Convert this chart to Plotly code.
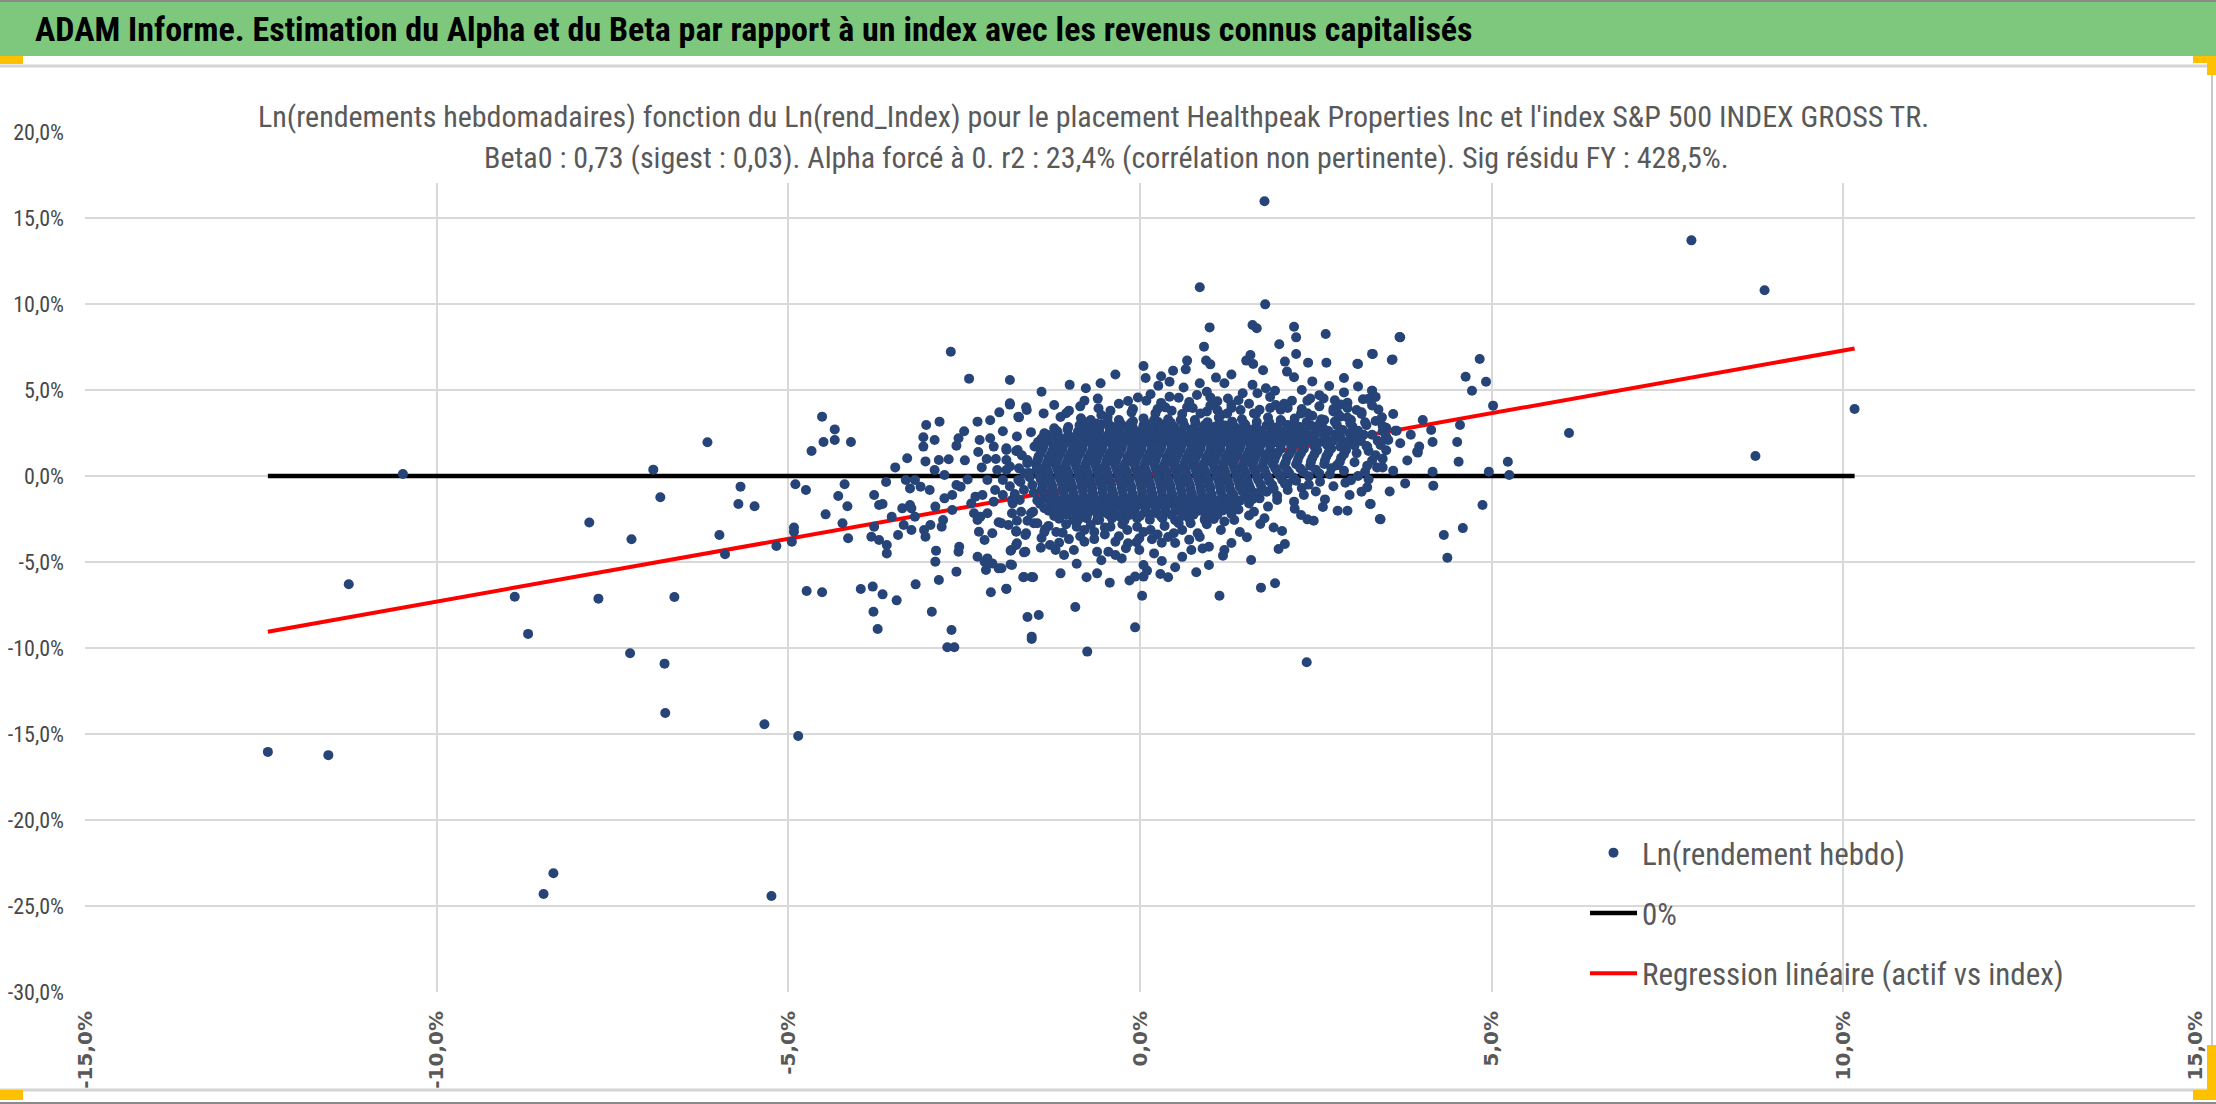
#!/usr/bin/env python
import plotly.graph_objects as go

### TEXTS ###
banner_text = ("ADAM Informe. Estimation du Alpha et du Beta par rapport à un index "
               "avec les revenus connus capitalisés")
title_lines = [
    "Ln(rendements hebdomadaires) fonction du Ln(rend_Index) pour le placement Healthpeak "
    "Properties Inc et l'index S&P 500 INDEX GROSS TR.",
    "Beta0 : 0,73 (sigest : 0,03). Alpha forcé à 0. r2 : 23,4% (corrélation non pertinente). "
    "Sig résidu FY : 428,5%.",
]
series_names = ["Ln(rendement hebdo)", "0%", "Regression linéaire (actif vs index)"]

x_tick_vals = [-15, -10, -5, 0, 5, 10, 15]
x_tick_text = ["-15,0%", "-10,0%", "-5,0%", "0,0%", "5,0%", "10,0%", "15,0%"]
y_tick_vals = [20, 15, 10, 5, 0, -5, -10, -15, -20, -25, -30]
y_tick_text = ["20,0%", "15,0%", "10,0%", "5,0%", "0,0%", "-5,0%", "-10,0%",
               "-15,0%", "-20,0%", "-25,0%", "-30,0%"]

beta0 = 0.73

### DATA (index ln-return %, asset ln-return %) ###
pts_tails = [
    (-12.40, -16.04), (-11.54, -16.23), (-11.25, -6.29), (-10.48, 0.12), (-8.89, -7.02),
    (-8.70, -9.18), (-8.48, -24.3), (-8.34, -23.1), (-7.83, -2.70), (-7.70, -7.13),
    (-7.25, -10.31), (-7.23, -3.68), (-6.92, 0.37), (-6.82, -1.24), (-6.76, -10.91),
    (-6.75, -13.78), (-6.62, -7.03), (-6.15, 1.96), (-5.98, -3.43), (-5.90, -4.55),
    (-5.71, -1.63), (-5.68, -0.62), (-5.48, -1.76), (-5.34, -14.43), (-5.24, -24.42),
    (-5.17, -4.07), (-4.95, -3.82), (-4.92, -3.0), (-4.92, -3.24), (-4.90, -0.48),
    (-4.86, -15.12), (-4.75, -0.81), (-4.74, -6.69), (-4.67, 1.45), (-4.52, 3.45),
    (-4.52, -6.76), (-4.50, 1.98), (-4.47, -2.23), (-4.34, 2.71), (-4.34, 2.09),
    (-4.29, -1.16), (-4.23, -2.75), (-4.20, -0.48), (-4.16, -1.76), (-4.15, -3.62),
    (-4.11, 1.98),
]
pts_left = [
    (-3.97, -6.57), (-3.80, -6.43), (-3.66, -6.88), (-3.46, -7.23), (-3.79, -7.89),
    (-3.73, -8.90), (-3.19, -6.30), (-2.96, -7.89), (-2.68, -8.95), (-2.74, -9.96),
    (-2.64, -9.96), (-2.86, -6.05), (-2.61, -5.56), (-2.12, -6.76), (-1.90, -6.57),
    (-1.65, -5.87), (-1.54, -5.87), (-1.60, -8.20), (-1.54, -9.48), (-3.78, -1.10),
    (-3.71, -1.69), (-3.66, -1.63), (-3.61, -0.35), (-3.78, -2.95), (-3.82, -3.53),
    (-3.71, -3.72), (-3.60, -4.01), (-3.60, -4.50), (-3.48, 0.50), (-3.31, 1.03),
    (-3.04, 2.97), (-2.85, 3.16), (-3.08, 2.25), (-3.08, 1.71), (-2.92, 2.09),
    (-3.05, 0.85), (-2.86, 0.93), (-2.72, 0.97), (-2.58, 2.19), (-2.61, 1.76),
    (-2.49, 0.91), (-2.31, 3.16), (-2.13, 3.24), (-2.28, 2.09), (-2.13, 2.19),
    (-2.08, 1.71), (-2.18, 0.99), (-2.05, 0.99), (-1.85, 4.15), (-1.85, 5.58),
    (-1.73, 3.45), (-1.61, 3.84), (-1.90, 1.51), (-1.76, 1.45), (-3.33, -0.23),
    (-3.27, -0.72), (-3.20, -0.23), (-3.12, -0.62), (-2.99, -0.81), (-2.92, 0.35),
    (-2.78, 0.06), (-2.61, -0.52), (-2.55, -0.62), (-2.67, -1.10), (-2.78, -1.30),
    (-3.38, -1.88), (-3.25, -1.88), (-3.20, -2.37), (-3.27, -1.69), (-3.53, -2.37),
    (-3.36, -2.85), (-3.25, -3.14), (-3.44, -3.43), (-3.07, -3.14), (-3.05, -3.53),
    (-2.98, -2.85), (-2.82, -2.95), (-2.80, -2.56), (-2.67, -1.98), (-2.91, -1.78),
    (-2.90, -4.34), (-2.91, -4.98), (-2.57, -4.11), (-2.58, -4.40), (-2.31, -4.69),
    (-2.21, -4.98), (-2.17, -4.79), (-2.10, -5.08), (-2.01, -5.37), (-2.19, -5.47),
    (-1.84, -5.14), (-1.84, -4.34), (-1.76, -4.01), (-1.65, -4.44), (-2.29, -3.24),
    (-2.21, -3.72), (-2.10, -3.33), (-2.01, -2.69), (-1.87, -2.85), (-1.76, -3.24),
    (-1.63, -3.43), (-1.51, -2.75), (-2.36, -2.17), (-2.27, -2.37), (-2.17, -2.17),
    (-2.34, -1.20), (-2.24, -1.10), (-2.08, -1.49), (-2.06, -0.81), (-2.17, -0.23),
    (-1.95, -0.23), (-1.90, 0.35), (-2.03, 0.35), (-1.73, -0.23), (-1.65, -0.81),
    (-1.71, -1.40), (-1.81, -1.59), (-1.60, 0.74), (-1.47, 0.35), (-1.55, -2.17),
    (-2.31, -2.56), (-2.69, 7.22), (-2.43, 5.66),
]
pts_upper = [
    (1.77, 15.97), (0.85, 10.97), (1.78, 9.98), (0.99, 8.64), (1.60, 8.78), (1.66, 8.59),
    (2.19, 8.68), (2.22, 8.06), (2.64, 8.26), (3.70, 8.06), (0.91, 7.52), (0.67, 6.71),
    (0.94, 6.72), (1.00, 6.49), (1.51, 6.71), (1.57, 7.03), (1.61, 6.51), (1.98, 7.66),
    (2.06, 6.65), (2.22, 7.09), (2.09, 6.07), (2.19, 5.74), (2.39, 6.59), (2.65, 6.59),
    (3.10, 6.51), (3.31, 7.09), (3.59, 6.78), (2.69, 5.23), (3.30, 4.96), (0.47, 6.12),
    (0.08, 5.70), (0.26, 5.25), (0.85, 5.39), (1.08, 5.72), (1.20, 5.39), (0.62, 5.15),
    (0.42, 5.48), (-0.56, 5.39), (-0.77, 5.10), (-0.79, 4.38), (-1.85, 4.23),
    (-1.62, 3.99), (-1.72, 3.41), (-1.37, 3.64), (-1.22, 4.13), (-1.13, 3.43),
    (-1.01, 3.80), (-0.59, 3.94), (-0.42, 3.80), (-0.46, 3.43), (-0.17, 4.36),
    (-0.03, 4.56), (0.09, 4.38), (0.22, 3.64), (0.36, 3.99), (0.42, 4.61), (0.81, 4.71),
    (1.0, 4.57), (1.25, 4.51), (1.46, 4.81), (1.67, 4.81), (1.79, 5.10), (1.92, 4.96),
    (1.93, 4.13), (2.16, 4.38), (2.38, 4.38), (2.42, 4.51), (2.61, 4.51), (2.77, 4.40),
    (2.90, 4.86), (2.95, 4.26), (3.17, 4.46), (3.24, 4.48), (3.39, 3.87), (3.44, 3.41),
    (3.65, 2.63), (3.53, 2.09), (3.23, 1.71), (3.37, 0.50), (3.45, 0.50), (3.23, 0.60),
    (3.08, 3.84), (3.0, 3.26), (2.81, 3.64), (2.62, 3.26), (2.50, 2.87), (2.29, 3.64),
    (2.19, 2.87), (2.00, 3.26), (1.86, 2.87), (1.62, 3.64), (1.43, 3.84), (1.24, 3.64),
    (1.10, 3.84), (0.86, 3.64), (0.67, 3.99), (0.58, 3.26), (0.20, 3.26), (0.06, 2.87),
    (-0.13, 3.07), (-0.32, 2.87), (-0.70, 3.26), (-0.84, 3.36), (-0.84, 2.68),
    (-1.08, 2.09), (-1.22, 2.77), (-1.36, 2.48), (-1.46, 1.71), (-1.60, 0.93),
    (-1.74, 1.51), (-1.90, 1.61), (-1.90, 0.93), (-1.64, 0.16), (-1.41, 0.35),
    (-1.22, 0.74), (2.3, 3.9), (2.55, 4.05), (2.75, 3.75), (2.95, 3.95), (3.15, 3.7),
    (3.3, 4.1), (2.45, 3.5), (2.85, 3.45), (1.85, 3.95), (2.05, 4.2), (1.55, 4.2),
    (1.3, 4.15), (1.0, 4.1), (0.7, 4.3), (0.45, 3.8), (1.15, 3.55), (1.7, 3.85),
]
pts_right = [
    (7.84, 13.7), (8.88, 10.8), (10.16, 3.9), (8.75, 1.16), (6.1, 2.5), (5.23, 0.83),
    (5.25, 0.06), (4.96, 0.25), (5.02, 4.09), (4.83, 6.8), (4.63, 5.77), (4.92, 5.48),
    (4.72, 4.96), (4.55, 2.97), (4.51, 1.98), (4.53, 0.83), (4.87, -1.69), (4.59, -3.03),
    (4.32, -3.43), (4.37, -4.75), (4.17, -0.56), (4.16, 0.25), (4.16, 1.98), (3.97, 1.71),
    (3.95, 1.36), (4.02, 3.26), (4.14, 2.67), (3.69, 8.08), (3.58, 6.74), (3.30, 7.1),
    (3.09, 6.53), (3.63, 2.63), (3.77, -0.43), (3.49, 2.12), (3.28, -1.63), (3.41, -2.5),
    (3.30, 4.96), (3.94, 1.41),
]
pts_lower = [
    (2.37, -10.83), (-0.75, -10.21), (-1.54, -9.34), (-0.07, -8.80), (-1.44, -8.08),
    (-0.92, -7.62), (0.03, -6.96), (1.13, -6.96), (1.72, -6.49), (1.92, -6.24),
    (-1.90, -6.55), (-1.66, -5.89), (-1.52, -5.89), (-1.82, -5.17), (-1.97, -5.36),
    (-1.13, -5.66), (-0.76, -5.89), (-0.61, -5.66), (-0.43, -6.20), (-0.15, -6.08),
    (-0.07, -5.85), (0.05, -5.85), (0.05, -5.17), (0.29, -5.70), (0.40, -5.89),
    (0.50, -5.31), (0.31, -4.94), (0.98, -5.17), (1.18, -4.63), (1.58, -4.88),
    (1.97, -4.24), (2.06, -3.95), (2.02, -3.20), (1.90, -2.99), (1.52, -3.56),
    (1.42, -3.26), (1.71, -2.79), (1.77, -2.46), (2.29, -2.27), (2.38, -2.52),
    (2.47, -2.60), (3.42, -2.52), (2.81, -2.02), (2.95, -2.02), (3.27, -1.63),
    (2.63, -1.36), (2.98, -1.10), (3.15, -0.91), (3.23, -0.66), (2.92, -0.39),
    (2.56, -0.33), (0.73, -4.30), (0.89, -4.22), (0.98, -4.11), (0.31, -3.88),
    (0.17, -3.68), (-0.01, -3.62), (-0.01, -4.30), (-0.17, -3.91), (-0.35, -3.82),
    (-0.35, -4.59), (-0.26, -4.79), (-0.61, -4.40), (-0.65, -3.67), (-0.79, -3.82),
    (-0.94, -4.30), (-1.08, -4.59), (-1.01, -3.67), (-1.15, -3.88), (-1.28, -4.01),
    (-1.41, -4.17), (-1.63, -4.40), (-1.83, -4.30), (-1.75, -3.91), (-1.62, -3.33),
    (-1.76, -3.20), (-1.36, -3.26), (-1.19, -3.26), (-1.46, -2.75), (-1.82, -2.17),
    (-1.97, -2.75), (-1.82, -1.40), (-1.69, -2.08), (-1.52, -2.08), (0.72, -2.75),
    (0.82, -3.33), (0.60, -3.14), (0.48, -3.33), (0.15, -3.14), (0.24, -2.17),
    (-0.04, -2.95), (-0.18, -3.14), (-0.61, -2.56), (-0.42, -2.95), (-0.79, -3.14),
    (-0.88, -2.56), (1.15, -3.14), (1.34, -2.56), (1.10, -2.17), (0.91, -1.78),
    (1.24, -1.59), (0.67, -1.78), (1.58, -1.30), (1.82, -1.78), (1.62, -2.08),
    (2.19, -1.49), (1.95, -1.40), (2.33, -1.10), (2.10, -0.81),
    (-1.3, -2.9), (-1.05, -2.8), (-0.7, -2.85), (-0.5, -3.0), (-0.25, -2.8), (0.05, -3.25),
    (0.35, -2.9), (0.55, -2.75), (0.95, -2.8), (1.2, -2.65), (-0.5, -3.4), (-0.85, -3.5),
    (0.4, -3.55), (0.7, -3.7), (-1.4, -3.6), (-0.2, -4.2), (0.2, -4.5), (-0.55, -4.9),
    (1.3, -3.9), (1.55, -2.3), (2.2, -1.9), (2.6, -1.8), (2.5, -0.9), (2.75, -0.6),
    (2.4, -0.5), (3.0, -0.25), (3.1, 0.0), (2.9, 0.3), (3.2, 0.25), (2.7, 0.1),
    (3.3, 0.9), (3.05, 0.8), (3.35, 1.2), (3.5, 1.5),
]
# loose ring of weeks around the dense heart
pts_halo = [
    (-1.05, 3.65), (-0.85, 4.05), (-0.6, 4.5), (-0.3, 4.2), (-0.1, 3.9), (0.15, 4.75),
    (0.3, 4.25), (0.55, 4.55), (0.75, 3.95), (0.95, 4.9), (1.1, 4.35), (1.4, 4.4),
    (1.6, 5.3), (1.85, 4.6), (2.1, 3.95), (2.3, 5.0), (2.55, 4.7), (2.85, 4.15),
    (3.1, 5.2), (3.35, 4.6), (0.3, 5.8), (1.3, 5.9), (-0.35, 5.9), (2.45, 5.5),
    (-1.4, 4.9), (-1.0, 5.3), (0.05, 6.4), (0.65, 6.2), (1.75, 6.15), (2.9, 5.7),
    (-1.6, -2.6), (-1.35, -3.1), (-1.1, -3.3), (-0.9, -2.95), (-0.65, -3.25), (-0.3, -3.5),
    (-0.05, -3.85), (0.25, -3.4), (0.5, -3.9), (0.85, -3.55), (1.05, -2.5), (1.3, -2.2),
    (1.4, -1.95), (1.55, -1.6), (1.7, -1.3), (1.95, -1.15), (2.1, -0.45), (2.3, -0.7),
    (-1.2, -4.3), (-0.45, -4.4), (0.6, -4.7), (1.2, -4.3), (-0.9, -5.1), (0.1, -5.5),
    (0.8, -5.6), (3.35, 3.2), (3.5, 2.8), (3.6, 3.6), (3.7, 1.9), (3.45, 1.0), (3.6, 0.3),
    (3.25, -0.2), (3.55, -0.9), (3.85, 2.4), (3.8, 0.9), (3.3, 2.4), (3.45, 2.6),
    (-1.75, 2.3), (-1.95, 2.6), (-2.3, 1.4), (-2.45, -0.2), (-2.25, 0.5), (-1.85, -0.6),
    (-1.95, -1.1), (-2.4, -1.6), (-1.75, -2.6), (-2.5, 2.6), (-2.0, 3.7), (-1.55, 2.55),
]
# dense heart of the cloud, first layer
pts_core = [
    (-0.55, 3.55), (-0.3, 3.25), (-0.12, 3.7), (0.05, 3.35), (0.25, 3.9), (0.4, 3.3),
    (0.6, 3.6), (0.78, 3.25), (0.95, 3.75), (1.12, 3.4), (1.3, 3.95), (1.45, 3.3),
    (1.65, 3.6), (1.82, 3.4), (2.0, 3.85), (2.2, 3.35), (2.38, 3.65), (2.58, 3.3),
    (2.75, 3.9), (2.95, 3.4), (3.15, 3.6),
    (-1.02, 2.85), (-0.86, 2.95), (-0.7, 2.82), (-0.55, 2.98), (-0.4, 2.86), (-0.25, 2.93),
    (-0.1, 2.8), (0.05, 2.95), (0.2, 2.86), (0.34, 2.97), (0.49, 2.84), (0.63, 2.92),
    (0.78, 2.8), (0.92, 2.96), (1.07, 2.87), (1.21, 2.93), (1.36, 2.82), (1.5, 2.97),
    (1.65, 2.85), (1.8, 2.94), (1.95, 2.83), (2.1, 2.96), (2.26, 2.86), (2.43, 2.93),
    (2.6, 2.82), (2.8, 2.95), (3.02, 2.88), (3.22, 2.96),
    (-1.32, 2.4), (-1.17, 2.5), (-1.02, 2.38), (-0.88, 2.52), (-0.74, 2.42), (-0.6, 2.48),
    (-0.46, 2.37), (-0.32, 2.5), (-0.18, 2.43), (-0.04, 2.49), (0.1, 2.38), (0.24, 2.51),
    (0.38, 2.44), (0.52, 2.47), (0.66, 2.36), (0.8, 2.5), (0.94, 2.42), (1.08, 2.48),
    (1.22, 2.38), (1.36, 2.51), (1.5, 2.43), (1.64, 2.47), (1.78, 2.37), (1.93, 2.5),
    (2.08, 2.42), (2.24, 2.49), (2.4, 2.39), (2.58, 2.5), (2.78, 2.42), (2.98, 2.48),
    (3.18, 2.4), (3.5, 2.3),
    (-1.45, 1.98), (-1.3, 2.05), (-1.16, 1.94), (-1.02, 2.04), (-0.88, 1.96), (-0.74, 2.06),
    (-0.6, 1.95), (-0.46, 2.03), (-0.32, 1.97), (-0.18, 2.05), (-0.04, 1.94), (0.1, 2.04),
    (0.24, 1.96), (0.38, 2.06), (0.52, 1.95), (0.66, 2.03), (0.8, 1.97), (0.94, 2.05),
    (1.08, 1.94), (1.22, 2.04), (1.36, 1.96), (1.5, 2.06), (1.64, 1.95), (1.78, 2.03),
    (1.92, 1.97), (2.07, 2.05), (2.22, 1.94), (2.38, 2.04), (2.55, 1.96), (2.74, 2.05),
    (2.94, 1.95), (3.14, 2.03), (3.42, 1.8),
    (-1.75, 1.45), (-1.38, 1.6), (-1.24, 1.5), (-1.1, 1.58), (-0.96, 1.49), (-0.82, 1.6),
    (-0.68, 1.52), (-0.54, 1.57), (-0.4, 1.48), (-0.26, 1.6), (-0.12, 1.53), (0.02, 1.58),
    (0.16, 1.49), (0.3, 1.6), (0.44, 1.51), (0.58, 1.57), (0.72, 1.48), (0.86, 1.6),
    (1.0, 1.53), (1.14, 1.58), (1.28, 1.49), (1.42, 1.6), (1.56, 1.51), (1.7, 1.57),
    (1.85, 1.48), (2.0, 1.59), (2.16, 1.52), (2.33, 1.58), (2.52, 1.5), (2.72, 1.6),
    (2.93, 1.52), (3.25, 1.45),
    (-1.45, 1.0), (-1.44, 1.14), (-1.3, 1.04), (-1.16, 1.13), (-1.02, 1.06), (-0.88, 1.15),
    (-0.74, 1.05), (-0.6, 1.12), (-0.46, 1.03), (-0.32, 1.14), (-0.18, 1.07), (-0.04, 1.12),
    (0.1, 1.04), (0.24, 1.15), (0.38, 1.06), (0.52, 1.12), (0.66, 1.03), (0.8, 1.14),
    (0.94, 1.07), (1.08, 1.13), (1.22, 1.04), (1.36, 1.15), (1.5, 1.06), (1.64, 1.12),
    (1.78, 1.03), (1.93, 1.14), (2.09, 1.07), (2.26, 1.13), (2.45, 1.04), (2.65, 1.14),
    (2.86, 1.06),
    (-1.85, 0.55), (-1.48, 0.7), (-1.34, 0.6), (-1.2, 0.68), (-1.06, 0.59), (-0.92, 0.7),
    (-0.78, 0.62), (-0.64, 0.67), (-0.5, 0.58), (-0.36, 0.7), (-0.22, 0.63), (-0.08, 0.68),
    (0.06, 0.59), (0.2, 0.7), (0.34, 0.61), (0.48, 0.67), (0.62, 0.58), (0.76, 0.7),
    (0.9, 0.63), (1.04, 0.68), (1.18, 0.59), (1.32, 0.7), (1.46, 0.61), (1.6, 0.67),
    (1.74, 0.58), (1.89, 0.69), (2.05, 0.62), (2.22, 0.68), (2.42, 0.6), (2.62, 0.7),
    (2.8, 0.62),
    (-1.58, 0.18), (-1.44, 0.24), (-1.3, 0.14), (-1.16, 0.23), (-1.02, 0.16), (-0.88, 0.25),
    (-0.74, 0.15), (-0.6, 0.22), (-0.46, 0.13), (-0.32, 0.24), (-0.18, 0.17), (-0.04, 0.22),
    (0.1, 0.14), (0.24, 0.25), (0.38, 0.16), (0.52, 0.22), (0.66, 0.13), (0.8, 0.24),
    (0.94, 0.17), (1.08, 0.23), (1.22, 0.14), (1.36, 0.25), (1.5, 0.16), (1.64, 0.22),
    (1.79, 0.13), (1.95, 0.24), (2.12, 0.17), (2.32, 0.23), (2.55, 0.15),
    (-1.7, -0.35), (-1.41, -0.2), (-1.27, -0.3), (-1.13, -0.22), (-0.99, -0.31),
    (-0.85, -0.2), (-0.71, -0.28), (-0.57, -0.23), (-0.43, -0.32), (-0.29, -0.2),
    (-0.15, -0.27), (-0.01, -0.22), (0.13, -0.31), (0.27, -0.2), (0.41, -0.29),
    (0.55, -0.23), (0.69, -0.32), (0.83, -0.2), (0.97, -0.27), (1.11, -0.22),
    (1.25, -0.31), (1.39, -0.2), (1.53, -0.29), (1.68, -0.23), (1.84, -0.31),
    (2.02, -0.21), (2.22, -0.28),
    (-1.4, -0.8), (-1.38, -0.65), (-1.24, -0.75), (-1.1, -0.66), (-0.96, -0.76),
    (-0.82, -0.65), (-0.68, -0.73), (-0.54, -0.68), (-0.4, -0.77), (-0.26, -0.65),
    (-0.12, -0.72), (0.02, -0.67), (0.16, -0.76), (0.3, -0.65), (0.44, -0.74),
    (0.58, -0.68), (0.72, -0.77), (0.86, -0.65), (1.0, -0.72), (1.14, -0.67),
    (1.28, -0.76), (1.42, -0.65), (1.57, -0.74), (1.73, -0.68), (1.9, -0.75),
    (-1.78, -1.05), (-1.36, -1.2), (-1.22, -1.1), (-1.08, -1.19), (-0.94, -1.11),
    (-0.8, -1.21), (-0.66, -1.12), (-0.52, -1.17), (-0.38, -1.09), (-0.24, -1.2),
    (-0.1, -1.13), (0.04, -1.18), (0.18, -1.1), (0.32, -1.21), (0.46, -1.12),
    (0.6, -1.17), (0.74, -1.09), (0.88, -1.2), (1.02, -1.13), (1.17, -1.18),
    (1.33, -1.1), (1.5, -1.2), (1.68, -1.12),
    (-1.42, -1.62), (-1.27, -1.55), (-1.12, -1.65), (-0.97, -1.56), (-0.83, -1.66),
    (-0.69, -1.55), (-0.55, -1.63), (-0.41, -1.58), (-0.27, -1.67), (-0.13, -1.55),
    (0.01, -1.62), (0.15, -1.57), (0.29, -1.66), (0.43, -1.55), (0.57, -1.63),
    (0.71, -1.58), (0.86, -1.67), (1.01, -1.56), (1.17, -1.63), (1.35, -1.57),
    (-1.3, -2.02), (-1.14, -2.1), (-0.98, -2.0), (-0.83, -2.09), (-0.68, -2.01),
    (-0.53, -2.11), (-0.38, -2.02), (-0.23, -2.07), (-0.08, -1.99), (0.07, -2.1),
    (0.22, -2.03), (0.37, -2.08), (0.52, -2.0), (0.67, -2.1), (0.83, -2.02),
    (1.0, -2.08), (1.18, -2.0),
    (-1.15, -2.48), (-0.95, -2.56), (-0.76, -2.45), (-0.58, -2.55), (-0.4, -2.47),
    (-0.22, -2.58), (-0.04, -2.46), (0.14, -2.54), (0.32, -2.45), (0.5, -2.57),
    (0.7, -2.48), (0.92, -2.55),
]
# dense heart of the cloud, points lying between the first layer
pts_core_b = [
    (-0.78, 3.12), (-0.62, 3.05), (-0.46, 3.15), (-0.28, 3.08), (-0.1, 3.18), (0.08, 3.06),
    (0.26, 3.14), (0.44, 3.1), (0.61, 3.17), (0.79, 3.05), (0.96, 3.13), (1.13, 3.09),
    (1.31, 3.16), (1.48, 3.06), (1.66, 3.14), (1.84, 3.1), (2.01, 3.17), (2.19, 3.07),
    (2.37, 3.13), (2.56, 3.08), (2.77, 3.16), (2.99, 3.06), (3.2, 3.12),
    (-1.18, 2.62), (-1.03, 2.7), (-0.88, 2.6), (-0.73, 2.68), (-0.58, 2.63), (-0.43, 2.71),
    (-0.29, 2.6), (-0.14, 2.67), (0.01, 2.62), (0.15, 2.7), (0.3, 2.61), (0.44, 2.68),
    (0.59, 2.63), (0.73, 2.71), (0.87, 2.6), (1.01, 2.67), (1.15, 2.62), (1.29, 2.7),
    (1.43, 2.61), (1.57, 2.68), (1.72, 2.63), (1.87, 2.71), (2.02, 2.6), (2.17, 2.67),
    (2.33, 2.62), (2.5, 2.7), (2.68, 2.61), (2.88, 2.68), (3.1, 2.63), (3.45, 2.9),
    (-1.4, 2.18), (-1.25, 2.25), (-1.1, 2.15), (-0.95, 2.24), (-0.81, 2.17), (-0.67, 2.26),
    (-0.53, 2.16), (-0.39, 2.23), (-0.25, 2.18), (-0.11, 2.26), (0.03, 2.15), (0.17, 2.24),
    (0.31, 2.17), (0.45, 2.25), (0.59, 2.16), (0.73, 2.23), (0.87, 2.18), (1.01, 2.26),
    (1.15, 2.15), (1.29, 2.24), (1.43, 2.17), (1.57, 2.25), (1.71, 2.16), (1.85, 2.23),
    (2.0, 2.18), (2.15, 2.26), (2.3, 2.15), (2.47, 2.24), (2.65, 2.17), (2.85, 2.25),
    (3.05, 2.16), (3.38, 2.05),
    (-1.5, 1.72), (-1.37, 1.8), (-1.23, 1.7), (-1.09, 1.79), (-0.95, 1.73), (-0.81, 1.8),
    (-0.67, 1.71), (-0.53, 1.78), (-0.39, 1.73), (-0.25, 1.81), (-0.11, 1.7), (0.03, 1.79),
    (0.17, 1.72), (0.31, 1.8), (0.45, 1.71), (0.59, 1.78), (0.73, 1.73), (0.87, 1.81),
    (1.01, 1.7), (1.15, 1.79), (1.29, 1.72), (1.43, 1.8), (1.57, 1.71), (1.71, 1.78),
    (1.85, 1.73), (2.0, 1.81), (2.15, 1.7), (2.31, 1.79), (2.48, 1.72), (2.66, 1.8),
    (2.85, 1.71), (3.05, 1.78), (3.22, 1.74),
    (-1.68, 1.2), (-1.41, 1.35), (-1.27, 1.25), (-1.13, 1.34), (-0.99, 1.27), (-0.85, 1.36),
    (-0.71, 1.26), (-0.57, 1.33), (-0.43, 1.28), (-0.29, 1.36), (-0.15, 1.25), (-0.01, 1.34),
    (0.13, 1.27), (0.27, 1.35), (0.41, 1.26), (0.55, 1.33), (0.69, 1.28), (0.83, 1.36),
    (0.97, 1.25), (1.11, 1.34), (1.25, 1.27), (1.39, 1.35), (1.53, 1.26), (1.67, 1.33),
    (1.81, 1.28), (1.96, 1.36), (2.12, 1.25), (2.29, 1.34), (2.48, 1.27), (2.68, 1.35),
    (2.9, 1.26), (3.08, 1.33),
    (-1.6, 0.83), (-1.46, 0.9), (-1.32, 0.8), (-1.18, 0.89), (-1.04, 0.82), (-0.9, 0.91),
    (-0.76, 0.81), (-0.62, 0.88), (-0.48, 0.83), (-0.34, 0.91), (-0.2, 0.8), (-0.06, 0.89),
    (0.08, 0.82), (0.22, 0.9), (0.36, 0.81), (0.5, 0.88), (0.64, 0.83), (0.78, 0.91),
    (0.92, 0.8), (1.06, 0.89), (1.2, 0.82), (1.34, 0.9), (1.48, 0.81), (1.62, 0.88),
    (1.76, 0.83), (1.91, 0.91), (2.07, 0.8), (2.24, 0.89), (2.43, 0.82), (2.63, 0.9),
    (2.84, 0.81),
    (-1.72, 0.45), (-1.46, 0.45), (-1.32, 0.35), (-1.18, 0.44), (-1.04, 0.37), (-0.9, 0.46),
    (-0.76, 0.36), (-0.62, 0.43), (-0.48, 0.38), (-0.34, 0.46), (-0.2, 0.35), (-0.06, 0.44),
    (0.08, 0.37), (0.22, 0.45), (0.36, 0.36), (0.5, 0.43), (0.64, 0.38), (0.78, 0.46),
    (0.92, 0.35), (1.06, 0.44), (1.2, 0.37), (1.34, 0.45), (1.48, 0.36), (1.62, 0.43),
    (1.77, 0.38), (1.92, 0.46), (2.09, 0.35), (2.28, 0.44), (2.5, 0.37), (2.72, 0.45),
    (-1.57, -0.07), (-1.43, 0.0), (-1.29, -0.1), (-1.15, -0.01), (-1.01, -0.08),
    (-0.87, 0.01), (-0.73, -0.09), (-0.59, -0.02), (-0.45, -0.07), (-0.31, 0.01),
    (-0.17, -0.1), (-0.03, -0.01), (0.11, -0.08), (0.25, 0.0), (0.39, -0.09),
    (0.53, -0.02), (0.67, -0.07), (0.81, 0.01), (0.95, -0.1), (1.09, -0.01),
    (1.23, -0.08), (1.37, 0.0), (1.51, -0.09), (1.66, -0.02), (1.82, -0.07),
    (1.99, 0.01), (2.18, -0.09), (2.4, -0.02),
    (-1.53, -0.52), (-1.39, -0.45), (-1.25, -0.55), (-1.11, -0.46), (-0.97, -0.53),
    (-0.83, -0.44), (-0.69, -0.54), (-0.55, -0.47), (-0.41, -0.52), (-0.27, -0.44),
    (-0.13, -0.55), (0.01, -0.46), (0.15, -0.53), (0.29, -0.45), (0.43, -0.54),
    (0.57, -0.47), (0.71, -0.52), (0.85, -0.44), (0.99, -0.55), (1.13, -0.46),
    (1.27, -0.53), (1.41, -0.45), (1.55, -0.54), (1.71, -0.47), (1.88, -0.52),
    (2.06, -0.45),
    (-1.51, -0.97), (-1.37, -0.9), (-1.23, -1.0), (-1.09, -0.91), (-0.95, -0.98),
    (-0.81, -0.89), (-0.67, -0.99), (-0.53, -0.92), (-0.39, -0.97), (-0.25, -0.89),
    (-0.11, -1.0), (0.03, -0.91), (0.17, -0.98), (0.31, -0.9), (0.45, -0.99),
    (0.59, -0.92), (0.73, -0.97), (0.87, -0.89), (1.01, -1.0), (1.15, -0.91),
    (1.3, -0.98), (1.46, -0.9), (1.63, -0.99), (1.8, -0.92),
    (-1.46, -1.42), (-1.31, -1.35), (-1.17, -1.45), (-1.02, -1.36), (-0.88, -1.43),
    (-0.74, -1.34), (-0.6, -1.44), (-0.46, -1.37), (-0.32, -1.42), (-0.18, -1.34),
    (-0.04, -1.45), (0.1, -1.36), (0.24, -1.43), (0.38, -1.35), (0.52, -1.44),
    (0.66, -1.37), (0.8, -1.42), (0.94, -1.34), (1.09, -1.45), (1.25, -1.36),
    (1.42, -1.43), (1.6, -1.35),
    (-1.36, -1.87), (-1.2, -1.8), (-1.05, -1.9), (-0.9, -1.81), (-0.76, -1.88),
    (-0.62, -1.79), (-0.48, -1.89), (-0.34, -1.82), (-0.2, -1.87), (-0.06, -1.79),
    (0.08, -1.9), (0.22, -1.81), (0.36, -1.88), (0.5, -1.8), (0.64, -1.89),
    (0.79, -1.82), (0.94, -1.87), (1.1, -1.79), (1.27, -1.88),
    (-1.22, -2.32), (-1.05, -2.25), (-0.9, -2.35), (-0.75, -2.26), (-0.6, -2.33),
    (-0.45, -2.24), (-0.3, -2.34), (-0.15, -2.27), (0.0, -2.32), (0.15, -2.24),
    (0.3, -2.35), (0.45, -2.26), (0.6, -2.33), (0.76, -2.25), (0.93, -2.34), (1.1, -2.27),
]

all_pts = (pts_tails + pts_left + pts_upper + pts_right + pts_lower + pts_halo
           + pts_core + pts_core_b)
idx_ret = [p[0] for p in all_pts]
asset_ret = [p[1] for p in all_pts]
x_lo, x_hi = min(idx_ret), max(idx_ret)

### FIGURE GEOMETRY (pixels) ###
W_FIG, H_FIG = 2216, 1104
L, R, T, B = 85, 2195, 132, 992


def px(x):
    return (x - L) / (R - L)


def py(y):
    return (B - y) / (B - T)


NARROW = "Liberation Sans Narrow, Arial Narrow, Roboto Condensed, sans-serif"
GREY_TXT = "#595959"

fig = go.Figure()
# lines first so the dots sit on top of them
fig.add_trace(go.Scatter(x=[x_lo, x_hi], y=[0, 0], mode="lines", name=series_names[1],
                         line=dict(color="black", width=4.5),
                         legendgroup="g2", legendrank=2, hoverinfo="skip"))
fig.add_trace(go.Scatter(x=[x_lo, x_hi], y=[beta0 * x_lo, beta0 * x_hi], mode="lines",
                         name=series_names[2], line=dict(color="#ff0000", width=4),
                         legendgroup="g3", legendrank=3, hoverinfo="skip"))
fig.add_trace(go.Scatter(x=idx_ret, y=asset_ret, mode="markers", name=series_names[0],
                         marker=dict(color="#264478", size=10, line=dict(width=0)),
                         legendgroup="g1", legendrank=1))

shapes = [
    # green banner
    dict(type="rect", xref="paper", yref="paper", x0=px(0), x1=px(W_FIG), y0=py(56), y1=py(0),
         fillcolor="#7dc87d", line=dict(width=0), layer="above"),
    dict(type="line", xref="paper", yref="paper", x0=px(0), x1=px(W_FIG), y0=py(1), y1=py(1),
         line=dict(color="#8a8a8a", width=2)),
    dict(type="line", xref="paper", yref="paper", x0=px(0), x1=px(W_FIG), y0=py(66), y1=py(66),
         line=dict(color="#d4d4d4", width=3)),
    dict(type="line", xref="paper", yref="paper", x0=px(2212), x1=px(2212), y0=py(66), y1=py(1090),
         line=dict(color="#c8c8c8", width=2)),
    dict(type="line", xref="paper", yref="paper", x0=px(0), x1=px(W_FIG), y0=py(1090), y1=py(1090),
         line=dict(color="#d4d4d4", width=3)),
    dict(type="line", xref="paper", yref="paper", x0=px(0), x1=px(W_FIG), y0=py(1103), y1=py(1103),
         line=dict(color="#8a8a8a", width=2)),
    # white box behind the chart title
    dict(type="rect", xref="paper", yref="paper", x0=px(252), x1=px(1956), y0=py(183), y1=py(90),
         fillcolor="white", line=dict(width=0), layer="above"),
]
# orange selection handles
for x0, y0, x1, y1 in [(0, 56, 23, 64), (2193, 56, 2216, 63), (2207, 56, 2216, 75),
                       (0, 1090, 23, 1100), (2193, 1090, 2216, 1100), (2207, 1045, 2216, 1100)]:
    shapes.append(dict(type="rect", xref="paper", yref="paper", x0=px(x0), x1=px(x1),
                       y0=py(y1), y1=py(y0), fillcolor="#ffc000", line=dict(width=0),
                       layer="above"))

annotations = [
    dict(text=banner_text, xref="paper", yref="paper", x=px(33), y=py(29),
         xanchor="left", yanchor="middle", showarrow=False,
         font=dict(family=NARROW, size=34, color="black", weight="bold")),
    dict(text=title_lines[0], xref="paper", yref="paper", x=px(1093), y=py(116),
         xanchor="center", yanchor="middle", showarrow=False,
         font=dict(family=NARROW, size=30, color=GREY_TXT)),
    dict(text=title_lines[1], xref="paper", yref="paper", x=px(1106), y=py(158),
         xanchor="center", yanchor="middle", showarrow=False,
         font=dict(family=NARROW, size=30, color=GREY_TXT)),
]

fig.update_layout(
    width=W_FIG, height=H_FIG, autosize=False,
    margin=dict(l=L, r=W_FIG - R, t=T, b=H_FIG - B),
    paper_bgcolor="white", plot_bgcolor="white",
    font=dict(family=NARROW, color=GREY_TXT),
    showlegend=True,
    legend=dict(x=px(1585), y=py(826), xanchor="left", yanchor="top",
                bgcolor="rgba(0,0,0,0)", borderwidth=0, itemwidth=47,
                tracegroupgap=17, traceorder="grouped",
                font=dict(family=NARROW, size=31, color=GREY_TXT)),
    shapes=shapes,
    annotations=annotations,
)
fig.update_xaxes(range=[-15, 15], tickvals=x_tick_vals, ticktext=x_tick_text, tickangle=-90,
                 showgrid=True, gridcolor="#d9d9d9", gridwidth=2, zeroline=False,
                 showline=False, ticks="", ticklabelstandoff=14, automargin=False,
                 tickfont=dict(family="DejaVu Sans", size=20, color=GREY_TXT, weight="bold"))
fig.update_yaxes(range=[-30, 20], tickvals=y_tick_vals, ticktext=y_tick_text,
                 showgrid=True, gridcolor="#d9d9d9", gridwidth=2, zeroline=False,
                 showline=False, ticks="", ticklabelstandoff=20, automargin=False,
                 tickfont=dict(family=NARROW, size=22, color="#484848"))

fig.write_html("out.html", config={"displayModeBar": False},
               post_script="document.body.style.margin='0';document.body.style.overflow='hidden';")
